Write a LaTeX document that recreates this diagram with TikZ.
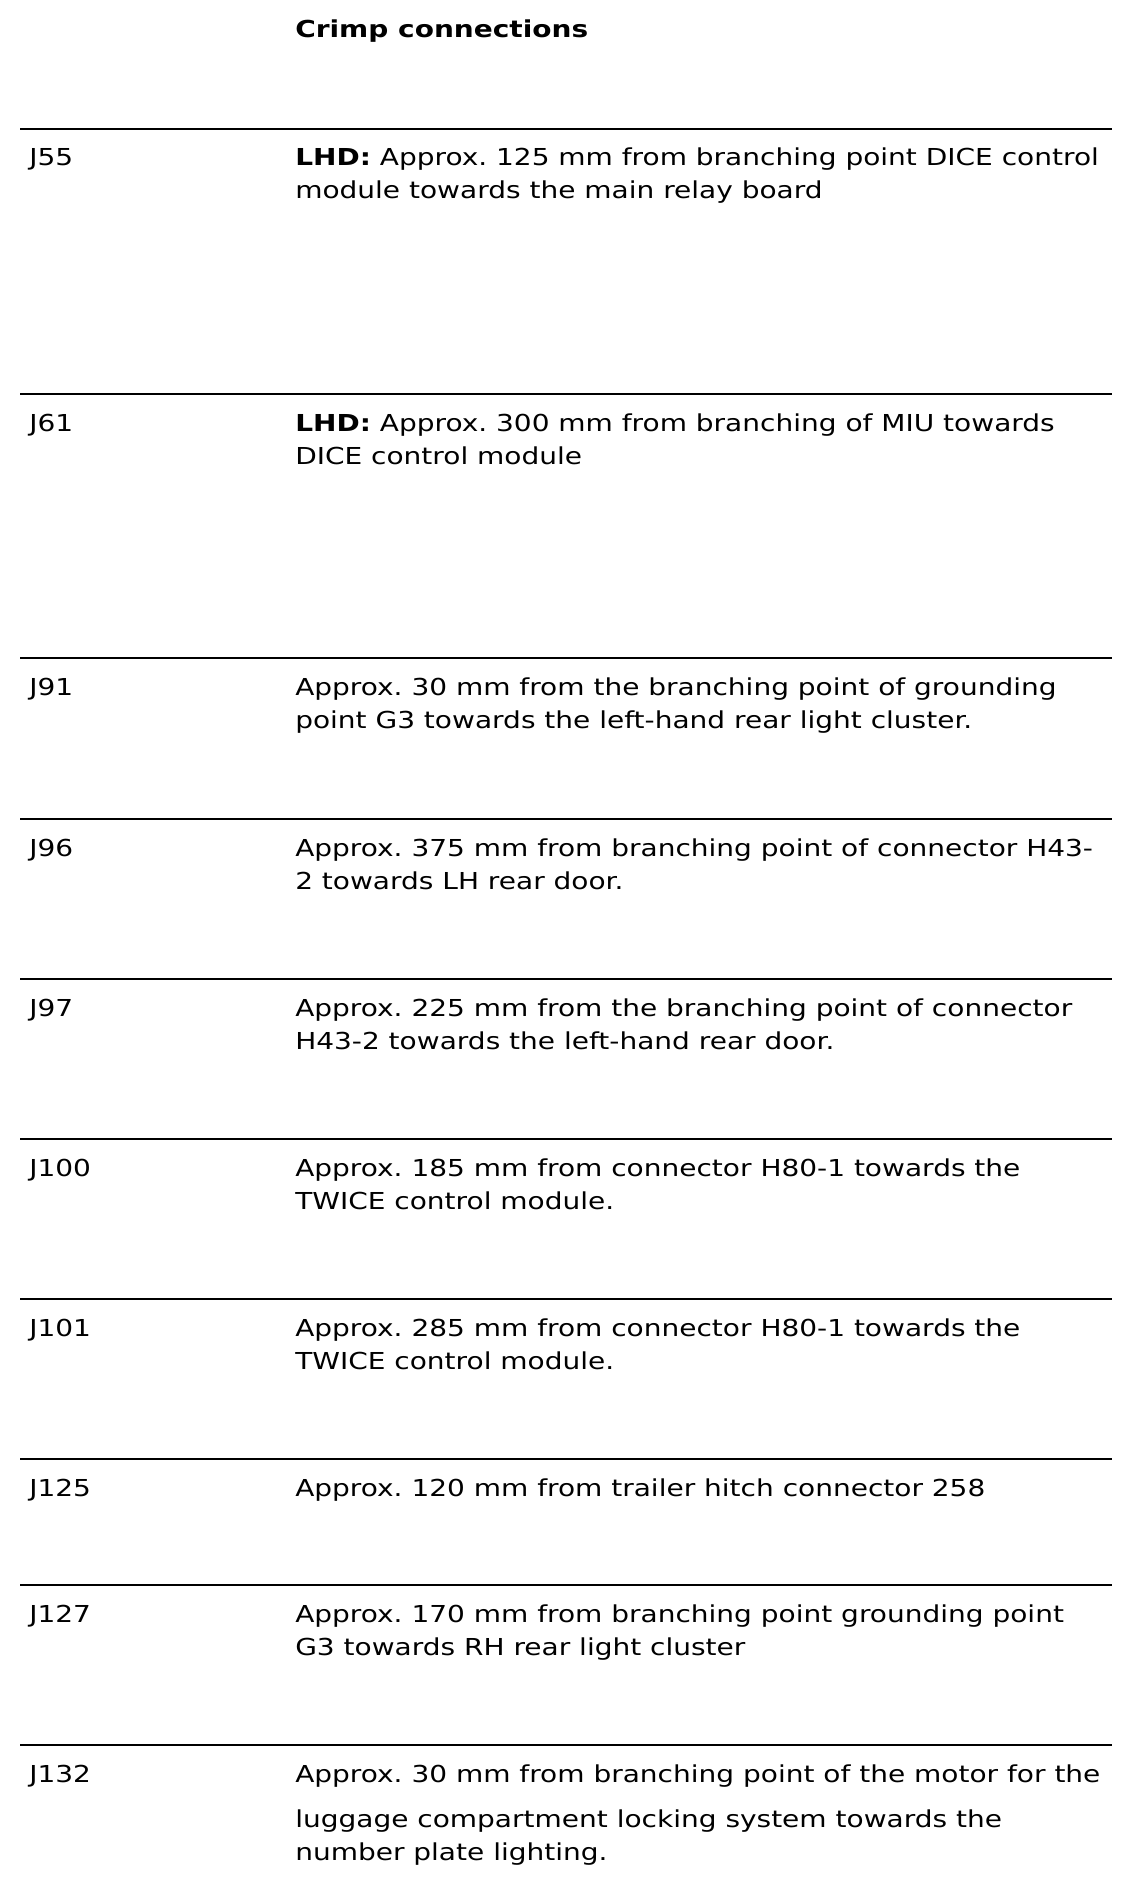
\documentclass[tikz,border=0pt]{standalone}
\usepackage{fontspec}
\setmainfont{DejaVu Sans}[FakeStretch=1.2]
\frenchspacing
\usetikzlibrary{ positioning, % For easy node-relative placements
               }

\newcommand{\jdesc}[1]{\begin{tabular}[t]{@{}l@{}}#1\end{tabular}}

\tikzset{
  rule/.style={line width=2.2pt},
  jlabel/.style={anchor=base west, inner sep=0pt},
  jtext/.style={anchor=base west, inner sep=0pt},
}

\begin{document}
\begin{tikzpicture}[x=0.75pt, y=-0.75pt,
    every node/.style={font=\fontsize{17.5}{24.75}\selectfont}]
  \useasboundingbox (0,0) rectangle (1136,1894);

  \node[jtext] (title) at (295,38) {\textbf{Crimp connections}};

  % rules, left and right ends
  \coordinate (l1) at (20,129);   \coordinate (r1) at (1112,129);
  \coordinate (l2) at (20,394);   \coordinate (r2) at (1112,394);
  \coordinate (l3) at (20,658);   \coordinate (r3) at (1112,658);
  \coordinate (l4) at (20,819);   \coordinate (r4) at (1112,819);
  \coordinate (l5) at (20,979);   \coordinate (r5) at (1112,979);
  \coordinate (l6) at (20,1139);  \coordinate (r6) at (1112,1139);
  \coordinate (l7) at (20,1299);  \coordinate (r7) at (1112,1299);
  \coordinate (l8) at (20,1459);  \coordinate (r8) at (1112,1459);
  \coordinate (l9) at (20,1585);  \coordinate (r9) at (1112,1585);
  \coordinate (l10) at (20,1745); \coordinate (r10) at (1112,1745);

  \draw[rule] (l1) -- (r1);
  \draw[rule] (l2) -- (r2);
  \draw[rule] (l3) -- (r3);
  \draw[rule] (l4) -- (r4);
  \draw[rule] (l5) -- (r5);
  \draw[rule] (l6) -- (r6);
  \draw[rule] (l7) -- (r7);
  \draw[rule] (l8) -- (r8);
  \draw[rule] (l9) -- (r9);
  \draw[rule] (l10) -- (r10);

  \node[jlabel] (j55) at (29,166) {J55};
  \node[jtext] (j55_txt) at (295,166) {\jdesc{\textbf{LHD:} Approx. 125 mm from branching point DICE control\\module towards the main relay board}};

  \node[jlabel] (j61) at (29,431) {J61};
  \node[jtext] (j61_txt) at (295,431) {\jdesc{\textbf{LHD:} Approx. 300 mm from branching of MIU towards\\DICE control module}};

  \node[jlabel] (j91) at (29,695) {J91};
  \node[jtext] (j91_txt) at (295,695) {\jdesc{Approx. 30 mm from the branching point of grounding\\point G3 towards the left-hand rear light cluster.}};

  \node[jlabel] (j96) at (29,856) {J96};
  \node[jtext] (j96_txt) at (295,856) {\jdesc{Approx. 375 mm from branching point of connector H43-\\2 towards LH rear door.}};

  \node[jlabel] (j97) at (29,1016) {J97};
  \node[jtext] (j97_txt) at (295,1016) {\jdesc{Approx. 225 mm from the branching point of connector\\H43-2 towards the left-hand rear door.}};

  \node[jlabel] (j100) at (29,1176) {J100};
  \node[jtext] (j100_txt) at (295,1176) {\jdesc{Approx. 185 mm from connector H80-1 towards the\\TWICE control module.}};

  \node[jlabel] (j101) at (29,1336) {J101};
  \node[jtext] (j101_txt) at (295,1336) {\jdesc{Approx. 285 mm from connector H80-1 towards the\\TWICE control module.}};

  \node[jlabel] (j125) at (29,1496) {J125};
  \node[jtext] (j125_txt) at (295,1496) {Approx. 120 mm from trailer hitch connector 258};

  \node[jlabel] (j127) at (29,1622) {J127};
  \node[jtext] (j127_txt) at (295,1622) {\jdesc{Approx. 170 mm from branching point grounding point\\G3 towards RH rear light cluster}};

  \node[jlabel] (j132) at (29,1782) {J132};
  \node[jtext] (j132_txt) at (295,1782) {\jdesc{Approx. 30 mm from branching point of the motor for the\\[9pt]luggage compartment locking system towards the\\number plate lighting.}};
\end{tikzpicture}
\end{document}
